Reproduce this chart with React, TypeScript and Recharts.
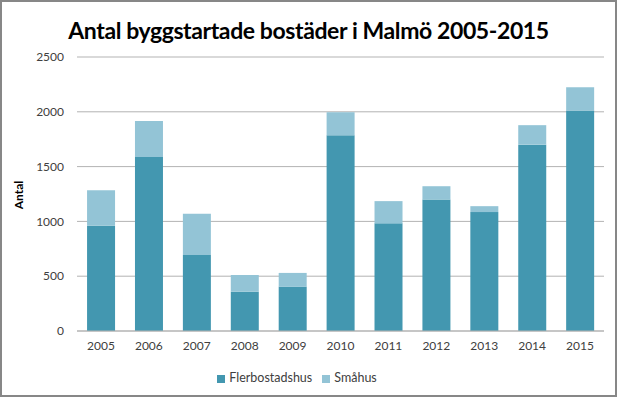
import React from 'react';
import { BarChart, Bar, XAxis, YAxis, CartesianGrid, Legend } from 'recharts';

const years = ['2005', '2006', '2007', '2008', '2009', '2010', '2011', '2012', '2013', '2014', '2015'];
const flerbostadshus = [960, 1588, 694, 357, 403, 1785, 982, 1200, 1085, 1700, 2012];
const smahus = [325, 327, 375, 155, 127, 211, 203, 121, 54, 178, 212];
const yTicks = [0, 500, 1000, 1500, 2000, 2500];

const data = years.map((year, i) => ({
  year,
  Flerbostadshus: flerbostadshus[i],
  Småhus: smahus[i],
}));

const font = 'Lato, "Open Sans", sans-serif';
const dark = '#4397b0';
const light = '#93c4d6';

export default function App() {
  return (
    <div style={{ position: 'absolute', left: 0, top: 0, width: 619, height: 398, background: '#fff' }}>
      <div
        style={{
          position: 'absolute',
          left: 0,
          top: 0,
          width: 617,
          height: 397,
          border: '2px solid #878787',
          boxSizing: 'border-box',
        }}
      />
      <div
        style={{
          position: 'absolute',
          left: 0,
          top: 16,
          width: 617,
          textAlign: 'center',
          fontFamily: font,
          fontWeight: 'bold',
          fontSize: 23,
          letterSpacing: -0.4,
          color: '#000',
        }}
      >
        Antal byggstartade bostäder i Malmö 2005-2015
      </div>
      <BarChart
        width={619}
        height={398}
        data={data}
        margin={{ top: 57, right: 15, bottom: 37, left: 0 }}
        barCategoryGap="21%"
        style={{ fontFamily: font }}
      >
        <CartesianGrid vertical={false} stroke="#b3b3b3" />
        <XAxis
          dataKey="year"
          axisLine={{ stroke: '#b3b3b3' }}
          tickLine={false}
          tickMargin={4}
          height={30}
          tick={{ fill: '#404040', fontSize: 12 }}
        />
        <YAxis
          width={77}
          domain={[0, 2500]}
          ticks={yTicks}
          axisLine={false}
          tickLine={false}
          tickMargin={7}
          tick={{ fill: '#404040', fontSize: 12 }}
          label={{
            content: () => (
              <text
                x={23}
                y={195}
                transform="rotate(-90 23 195)"
                textAnchor="middle"
                fontWeight="bold"
                fontSize={12}
                fill="#000"
                fontFamily={font}
              >
                Antal
              </text>
            ),
          }}
        />
        <Legend
          layout="horizontal"
          verticalAlign="middle"
          align="center"
          iconType="square"
          iconSize={8}
          wrapperStyle={{ top: 370, fontSize: 12.5 }}
          formatter={(value) => <span style={{ color: '#404040' }}>{value}</span>}
        />
        <Bar dataKey="Flerbostadshus" stackId="a" fill={dark} isAnimationActive={false} />
        <Bar dataKey="Småhus" stackId="a" fill={light} isAnimationActive={false} />
      </BarChart>
    </div>
  );
}
